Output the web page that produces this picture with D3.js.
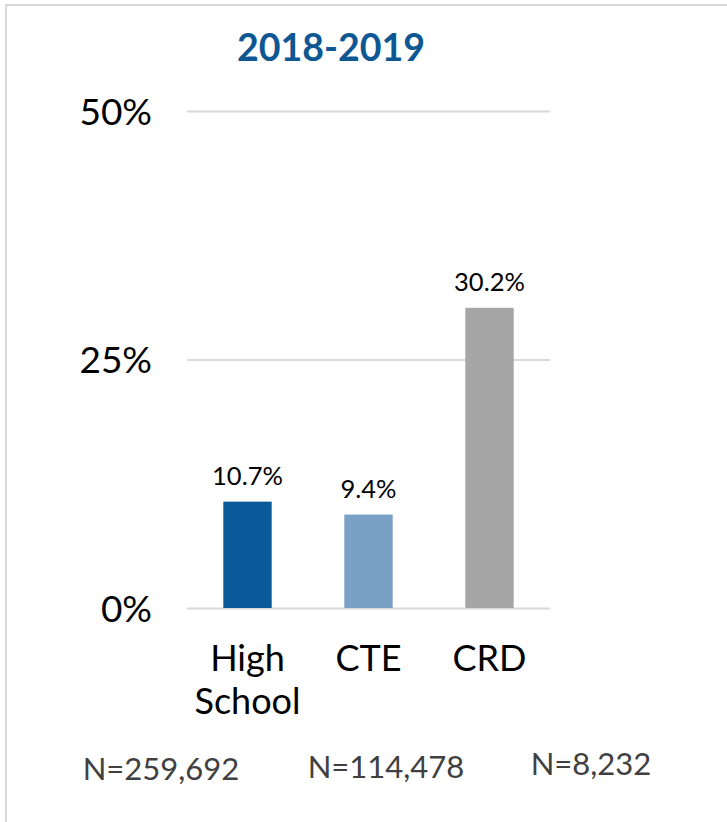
<!DOCTYPE html>
<html>
<head>
<meta charset="utf-8">
<script src="https://cdn.jsdelivr.net/npm/d3@7"></script>
<style>
  html, body { margin: 0; padding: 0; background: #fff; }
  svg { display: block; }
</style>
</head>
<body>
<svg id="chart" width="727" height="822"></svg>
<script>
// Chart data
const title = "2018-2019";
const categories = ["High School", "CTE", "CRD"];
const values = [10.7, 9.4, 30.2];
const sampleSizes = ["N=259,692", "N=114,478", "N=8,232"];
const tickValues = [0, 25, 50];
const barColors = ["#0a5a9a", "#7aa0c6", "#a6a6a6"];

const svg = d3.select("#chart");
const font = "Lato, 'Open Sans', sans-serif";

// Outer frame (top and left edges visible)
svg.append("path")
  .attr("d", "M6,822 V5 H727")
  .attr("fill", "none")
  .attr("stroke", "#d9d9d9")
  .attr("stroke-width", 2);

const plot = { left: 187, right: 550, top: 111, bottom: 608 };

const x = d3.scaleBand()
  .domain(categories)
  .range([plot.left, plot.right])
  .paddingInner(0.6)
  .paddingOuter(0.3);

const y = d3.scaleLinear()
  .domain([0, 50])
  .range([plot.bottom, plot.top]);

// Title
svg.append("text")
  .attr("x", 331)
  .attr("y", 61)
  .attr("text-anchor", "middle")
  .attr("font-family", font)
  .attr("font-weight", "bold")
  .attr("font-size", 37.5)
  .attr("fill", "#0d5793")
  .text(title);

// Gridlines and y-axis labels
const yAxis = d3.axisLeft(y)
  .tickValues(tickValues)
  .tickSize(-(plot.right - plot.left))
  .tickPadding(35)
  .tickFormat(d => d + "%");

const gy = svg.append("g")
  .attr("transform", `translate(${plot.left},0)`)
  .call(yAxis);
gy.select(".domain").remove();
gy.selectAll(".tick line")
  .attr("stroke", "#d9d9d9")
  .attr("stroke-width", 2);
gy.selectAll(".tick text")
  .attr("font-family", font)
  .attr("font-size", 37)
  .attr("fill", "#000")
  .attr("dy", "0.36em");

// Bars
svg.append("g").selectAll("rect")
  .data(values)
  .join("rect")
  .attr("x", (d, i) => x(categories[i]))
  .attr("width", x.bandwidth())
  .attr("y", d => y(d))
  .attr("height", d => y(0) - y(d))
  .attr("fill", (d, i) => barColors[i]);

// Value labels
svg.append("g").selectAll("text")
  .data(values)
  .join("text")
  .attr("x", (d, i) => x(categories[i]) + x.bandwidth() / 2)
  .attr("y", d => y(d) - 17)
  .attr("text-anchor", "middle")
  .attr("font-family", font)
  .attr("font-size", 25.5)
  .attr("fill", "#000")
  .text(d => d.toFixed(1) + "%");

// Category labels (wrapped on spaces)
const catG = svg.append("g");
categories.forEach((c, i) => {
  const t = catG.append("text")
    .attr("x", x(c) + x.bandwidth() / 2)
    .attr("y", 671)
    .attr("text-anchor", "middle")
    .attr("font-family", font)
    .attr("font-size", 36)
    .attr("fill", "#000");
  c.split(" ").forEach((w, j) => {
    t.append("tspan")
      .attr("x", x(c) + x.bandwidth() / 2)
      .attr("dy", j === 0 ? 0 : 43)
      .text(w);
  });
});

// Sample sizes
const nX = [161, 386, 591];
const nY = [780, 778, 775];
svg.append("g").selectAll("text")
  .data(sampleSizes)
  .join("text")
  .attr("x", (d, i) => nX[i])
  .attr("y", (d, i) => nY[i])
  .attr("text-anchor", "middle")
  .attr("font-family", font)
  .attr("font-size", 31)
  .attr("fill", "#404040")
  .text(d => d);
</script>
</body>
</html>
